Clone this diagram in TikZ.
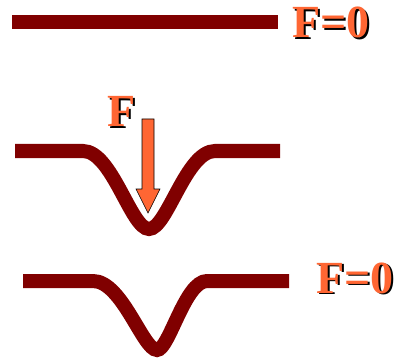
\documentclass[tikz,border=0pt]{standalone}
\usepackage{fontspec}
\setmainfont{Liberation Serif}
\usepackage{xcolor}
\usepackage{tikz}
\usetikzlibrary{positioning}
\definecolor{beam}{HTML}{800000}
\definecolor{force}{HTML}{FF6633}
\tikzset{
  beamline/.style={draw=beam,line width=14pt,line cap=butt},
  lbl/.style={inner sep=0pt,anchor=base west,text=force,
              font=\bfseries\fontsize{46}{46}\selectfont},
  lblshadow/.style={lbl,text=black},
  farrow/.style={fill=force,draw=black,line width=0.6pt,line join=miter},
}
\begin{document}
\begin{tikzpicture}[x=1pt,y=-1pt]
\useasboundingbox (0,0) rectangle (398,358);

%% ---------- unloaded beam (top) ----------
\draw[beamline] (12,22) -- (278,22);
\node[lblshadow] (f0ash) at (293.8,39.8) {F=0};
\node[lbl]       (f0a)   at (292,38)     {F=0};

%% ---------- loaded beam (middle) ----------
\draw[beamline] (15,151) -- (83,151)
  .. controls (112,151) and (131,229) .. (149,229)
  .. controls (167,229) and (186,151) .. (215,151) -- (280,151);
\node[lblshadow] (fsh) at (108.8,128.8) {F};
\node[lbl]       (f)   at (107,127)     {F};

%% force arrow
\coordinate (atop) at (148,119);
\coordinate (atip) at (148,213);
\filldraw[farrow] ([xshift=-6pt]atop) -- ([xshift=6pt]atop)
  -- (154,189) -- (160,189) -- (atip) -- (136,189) -- (142,189) -- cycle;

%% ---------- released beam (bottom) ----------
\draw[beamline] (23,281) -- (93,281)
  .. controls (122,281) and (143,350) .. (157,350)
  .. controls (169,350) and (185,281) .. (207,281) -- (289,281);
\node[lblshadow] (f0bsh) at (317.8,294.8) {F=0};
\node[lbl]       (f0b)   at (316,293)     {F=0};
\end{tikzpicture}
\end{document}
